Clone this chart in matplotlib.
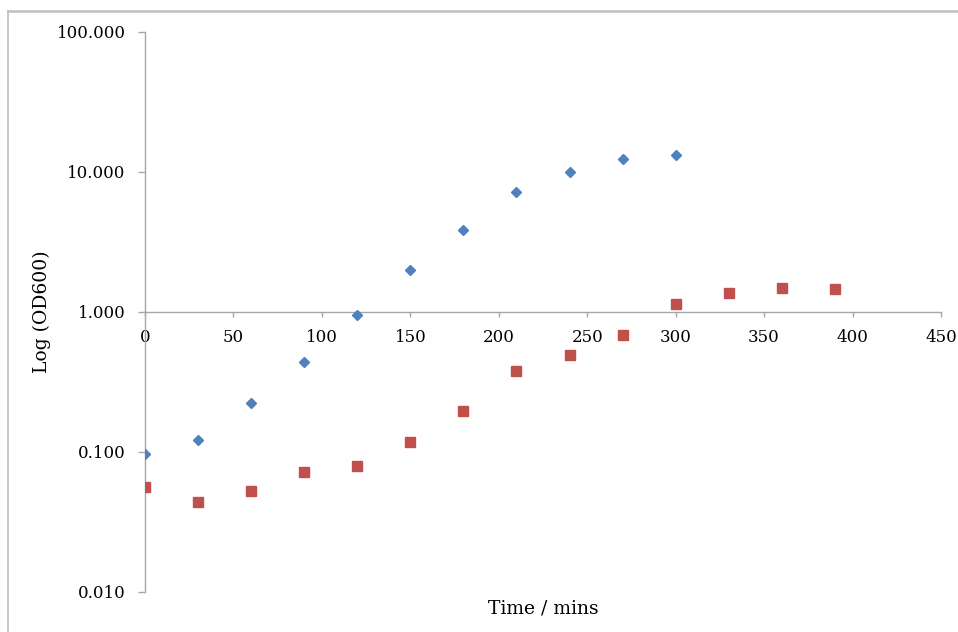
import matplotlib
matplotlib.use('Agg')
import matplotlib.pyplot as plt
from matplotlib.ticker import FixedLocator, FuncFormatter, NullLocator
from matplotlib.lines import Line2D

# growth curves, OD600 readings every 30 min
time_a = [0, 30, 60, 90, 120, 150, 180, 210, 240, 270, 300]
od_a = [0.097, 0.122, 0.224, 0.44, 0.95, 1.99, 3.84, 7.17, 9.95, 12.3, 13.2]

time_b = [0, 30, 60, 90, 120, 150, 180, 210, 240, 270, 300, 330, 360, 390]
od_b = [0.0566, 0.0442, 0.053, 0.0724, 0.0798, 0.118, 0.197, 0.38, 0.494,
        0.686, 1.14, 1.37, 1.48, 1.47]

x_ticks = [0, 50, 100, 150, 200, 250, 300, 350, 400, 450]
y_ticks = [0.01, 0.1, 1, 10, 100]

W, H = 958, 632
plt.rcParams['font.family'] = 'DejaVu Serif'
plt.rcParams['font.size'] = 12

fig = plt.figure(figsize=(W / 100, H / 100), dpi=100)
ax = fig.add_axes([145 / W, 40 / H, 796 / W, 560 / H])

ax.plot(time_a, od_a, linestyle='none', marker='D', markersize=5.4,
        color='#4F81BD', zorder=3)
ax.plot(time_b, od_b, linestyle='none', marker='s', markersize=7,
        color='#C0504D', zorder=3)

ax.set_yscale('log')
ax.set_ylim(0.01, 100)
ax.set_xlim(0, 450)

ax.yaxis.set_major_locator(FixedLocator(y_ticks))
ax.yaxis.set_minor_locator(NullLocator())
ax.yaxis.set_major_formatter(FuncFormatter(lambda v, p: '%.3f' % v))
ax.xaxis.set_major_locator(FixedLocator(x_ticks))

axis_col = '#a6a6a6'
for s in ['top', 'right']:
    ax.spines[s].set_visible(False)
ax.spines['bottom'].set_position(('data', 1))
ax.spines['left'].set_color(axis_col)
ax.spines['bottom'].set_color(axis_col)
ax.spines['left'].set_linewidth(1.0)
ax.spines['bottom'].set_linewidth(1.0)

ax.tick_params(axis='y', direction='out', length=5, width=1.0,
               color=axis_col, pad=9, labelsize=12, labelcolor='black')
ax.tick_params(axis='x', direction='out', length=3.6, width=1.0,
               color=axis_col, pad=9, labelsize=12, labelcolor='black')

ax.set_ylabel('Log (OD600)', fontsize=13.5)
ax.yaxis.set_label_coords(-0.118, 0.5)
ax.set_xlabel('Time / mins', fontsize=13.5)
ax.xaxis.set_label_coords(0.5, -0.014)

# outer chart frame (top and left edges)
frame_col = '#bfbfbf'
fig.add_artist(Line2D([7.5 / W, 1.0], [1 - 10.5 / H, 1 - 10.5 / H],
                      transform=fig.transFigure, color=frame_col, lw=1.8))
fig.add_artist(Line2D([7.5 / W, 7.5 / W], [0, 1 - 10.5 / H],
                      transform=fig.transFigure, color=frame_col, lw=1.2))

fig.savefig('out.png', dpi=100)
